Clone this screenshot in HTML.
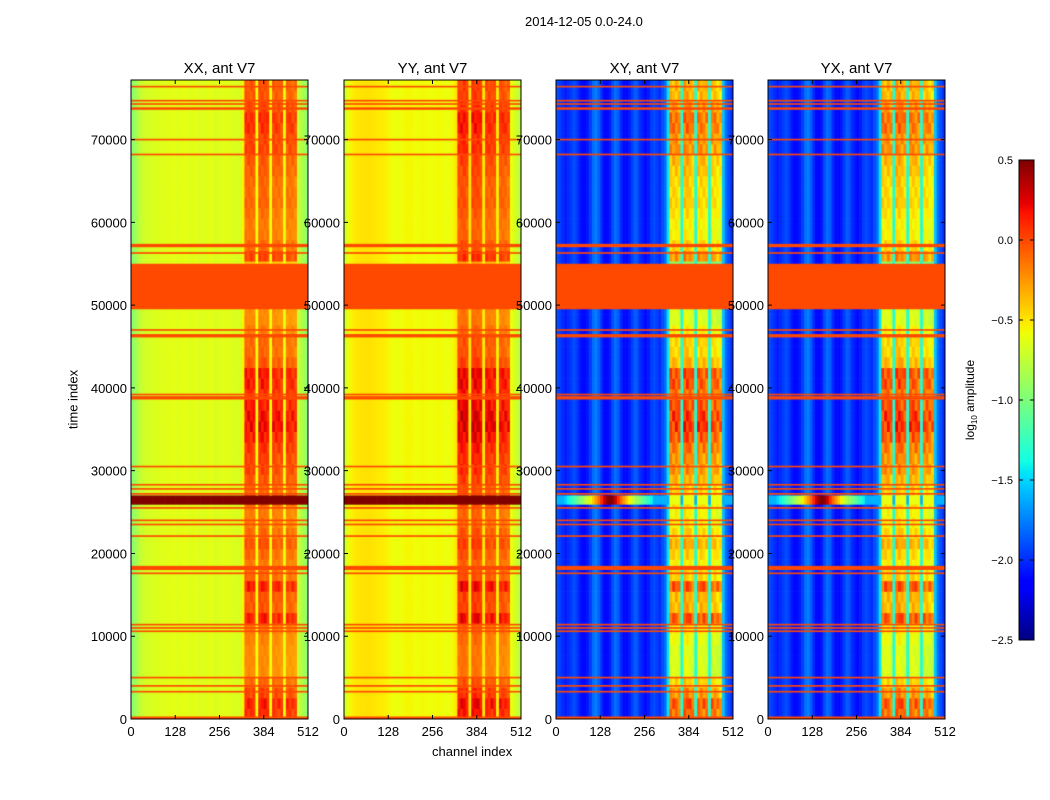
<!DOCTYPE html>
<html><head><meta charset="utf-8"><style>
body{margin:0;background:#fff;font-family:"Liberation Sans",sans-serif;}
#wrap{position:relative;width:1050px;height:800px;overflow:hidden;background:#fff}
.t{position:absolute;font-size:13px;color:#000;white-space:nowrap}
canvas{position:absolute}
</style></head><body>
<div id="wrap">
<div class="t" style="left:525px;top:14px;font-size:13px">2014-12-05 0.0-24.0</div>
<div class="t" style="left:432px;top:744px">channel index</div>
<div class="t" style="left:33px;top:392px;transform:rotate(-90deg);transform-origin:center;width:80px;text-align:center">time index</div>
<svg id="svg" width="1050" height="800" style="position:absolute;left:0;top:0"></svg>
</div>
<script>
// ---- data ----
const panelTitles=["XX, ant V7","YY, ant V7","XY, ant V7","YX, ant V7"];
const yTicks=[0,10000,20000,30000,40000,50000,60000,70000];
const xTicks=[0,128,256,384,512];
const cbTicks=[0.5,0.0,-0.5,-1.0,-1.5,-2.0,-2.5];
const tMax=77200, nRows=60, rowSpan=1287;
const baseXX=[-0.95,-0.88,-0.8,-0.74,-0.7,-0.68,-0.67,-0.66,-0.66,-0.65,-0.64,-0.64,-0.63,-0.64,-0.62,-0.62,-0.63,-0.64,-0.62,-0.61,-0.62,-0.64,-0.63,-0.62,-0.64,-0.65,-0.64,-0.63,-0.62,-0.64,-0.65,-0.64,-0.64,-0.62,-0.63,-0.64,-0.64,-0.65,-0.66,-0.66,-0.55,-0.38,-0.38,-0.39,-0.4,-0.58,-0.38,-0.37,-0.38,-0.4,-0.58,-0.42,-0.42,-0.43,-0.45,-0.6,-0.44,-0.44,-0.45,-0.47,-0.72,-0.78,-0.85,-0.95];
const baseYY=[-0.7,-0.6,-0.55,-0.52,-0.5,-0.5,-0.49,-0.49,-0.48,-0.49,-0.5,-0.5,-0.51,-0.52,-0.53,-0.54,-0.56,-0.58,-0.59,-0.59,-0.58,-0.57,-0.56,-0.56,-0.56,-0.58,-0.58,-0.57,-0.56,-0.57,-0.58,-0.58,-0.58,-0.56,-0.57,-0.58,-0.59,-0.59,-0.58,-0.56,-0.5,-0.32,-0.3,-0.3,-0.33,-0.5,-0.3,-0.3,-0.31,-0.34,-0.52,-0.36,-0.36,-0.37,-0.38,-0.54,-0.38,-0.38,-0.4,-0.43,-0.6,-0.65,-0.7,-0.78];
const baseXY=[-1.9,-1.95,-2.0,-2.05,-2.0,-1.95,-1.9,-1.95,-2.05,-2.1,-2.1,-2.05,-1.95,-1.8,-1.75,-1.85,-2.0,-2.1,-2.1,-2.05,-1.9,-1.8,-1.85,-2.0,-2.1,-2.1,-2.05,-1.95,-1.85,-1.9,-2.0,-2.05,-2.1,-2.05,-1.95,-1.9,-1.95,-2.0,-1.9,-1.8,-1.45,-0.95,-0.95,-0.95,-1.0,-1.35,-0.9,-0.9,-0.95,-1.0,-1.35,-0.95,-0.95,-0.97,-1.0,-1.35,-1.0,-1.0,-1.05,-1.1,-1.55,-1.8,-1.9,-2.0];
const baseYX=baseXY.slice();
const rfiRow=[0.8,0.9,0.7,0.5,0.3,0.3,0.3,0.35,0.4,0.9,0.6,0.6,0.9,0.5,0.4,0.5,0.6,0.5,0.4,0.4,0.5,0.5,0.6,0.7,0.7,0.8,0.9,1.0,1.0,0.9,0.8,0.9,0.9,0.6,0.5,0.5,0.4,0.3,0.3,0,0,0,0,0.7,0.5,0.4,0.4,0.45,0.5,0.5,0.5,0.55,0.6,0.7,0.7,0.8,0.8,0.7,0.6,0.6];
const rfiCol=[1.0,1.1,0.85,1.05,0.95,0.8,1.1,0.9];
const rfiGain=[0.6,0.6,1.05,1.05];
const flagStart=[0,3200,3900,4900,10500,10900,11300,17500,18000,22000,23400,23900,25400,27100,27700,28200,30400,38600,39100,46100,46900,49500,56200,57000,68100,69900,73600,74200,74600,76300];
const flagEnd=[300,3400,4100,5100,10700,11100,11500,17700,18500,22200,23600,24100,25600,27300,27900,28400,30600,39000,39300,46500,47100,55000,56400,57400,68300,70100,73900,74400,74800,76500];
const flagValue=0.0;
const burstT0=25900, burstT1=27000;
const burstXX=0.5, burstYY=0.5;
const burstXY=[-1.5,-1.4,-1.3,-1.2,-1.1,-1.0,-0.9,-0.8,-0.7,-0.55,-0.4,-0.25,-0.1,0.1,0.3,0.45,0.5,0.45,0.3,0.1,-0.1,-0.25,-0.4,-0.55,-0.7,-0.8,-0.9,-1.0,-1.1,-1.2,-1.3,-1.4];
// ---- layout ----
const panelX=[131,344,556,768], pw=177, py=80, ph=639;
const vmin=-2.5, vmax=0.5;
const JR=[[0,0],[0.35,0],[0.66,1],[0.89,1],[1,0.5]];
const JG=[[0,0],[0.125,0],[0.375,1],[0.64,1],[0.91,0],[1,0]];
const JB=[[0,0.5],[0.11,1],[0.34,1],[0.65,0],[1,0]];
function interp(pts,x){for(let i=1;i<pts.length;i++){if(x<=pts[i][0]){const a=pts[i-1],b=pts[i];return a[1]+(b[1]-a[1])*(x-a[0])/(b[0]-a[0]);}}return pts[pts.length-1][1];}
function jet(v){let x=(v-vmin)/(vmax-vmin);x=Math.max(0,Math.min(1,x));
 return `rgb(${Math.round(255*interp(JR,x))},${Math.round(255*interp(JG,x))},${Math.round(255*interp(JB,x))})`;}
const yS=t=>py+ph-t/tMax*ph;
const xS=c=>c/512*pw;
const svg=document.getElementById('svg');const NS="http://www.w3.org/2000/svg";
const wrap=document.getElementById('wrap');
const bases=[baseXX,baseYY,baseXY,baseYX];
function isRfi(b){return (b>=41&&b<=44)||(b>=46&&b<=49)||(b>=51&&b<=54)||(b>=56&&b<=59);}
function txt(x,y,s,anchor,size){const t=document.createElementNS(NS,'text');t.setAttribute('x',x);t.setAttribute('y',y);t.setAttribute('text-anchor',anchor);t.setAttribute('font-size',size||13);t.setAttribute('font-family','Liberation Sans, sans-serif');t.textContent=s;svg.appendChild(t);return t;}
for(let p=0;p<4;p++){
 const cv=document.createElement('canvas');cv.width=pw;cv.height=ph;
 cv.style.left=panelX[p]+'px';cv.style.top=py+'px';
 
 
 wrap.insertBefore(cv,svg);
 const g=cv.getContext('2d');const base=bases[p];
 for(let r=0;r<nRows;r++){
  const t0=r*rowSpan,t1=Math.min(tMax,(r+1)*rowSpan+rowSpan*(r==nRows-1?2:0));
  for(let b=0;b<64;b++){
   let v=base[b];
   if(isRfi(b)) v+=rfiRow[r]*rfiGain[p]*rfiCol[(b+r)%8];
   g.fillStyle=jet(v);
   const x0=xS(b*8),x1=xS(b*8+8);
   g.fillRect(x0,yS(t1)-py,x1-x0+0.6,yS(t0)-yS(t1)+0.6);
  }
 }
 for(let b=0;b<64;b++){
  let v;
  if(p<2) v=(p==0?burstXX:burstYY); else {const i=b-3; v=(i>=0&&i<burstXY.length)?burstXY[i]:-1.6; if(isRfi(b)) v=Math.max(v,-0.6);}
  g.fillStyle=jet(v);
  const x0=xS(b*8),x1=xS(b*8+8);
  g.fillRect(x0,yS(burstT1)-py,x1-x0+0.6,yS(burstT0)-yS(burstT1));
 }
 g.fillStyle=jet(flagValue);
 for(let i=0;i<flagStart.length;i++){
  const y0=yS(flagEnd[i])-py,y1=yS(flagStart[i])-py;
  g.fillRect(0,y0,pw,Math.max(1,y1-y0));
 }
 const fr=document.createElementNS(NS,'rect');fr.setAttribute('x',panelX[p]);fr.setAttribute('y',py);fr.setAttribute('width',pw);fr.setAttribute('height',ph);fr.setAttribute('fill','none');fr.setAttribute('stroke','#000');
 
 
 svg.appendChild(fr);
 const tt=txt(panelX[p]+pw/2,73,panelTitles[p],'middle',15);
 
 
 for(const yt of yTicks){const y=yS(yt);
  const l=document.createElementNS(NS,'path');l.setAttribute('d',`M${panelX[p]} ${y}h4M${panelX[p]+pw} ${y}h-4`);l.setAttribute('stroke','#000');svg.appendChild(l);
  const lb=txt(panelX[p]-4,y+5,String(yt),'end');
  
  }
 for(const xt of xTicks){const x=panelX[p]+xS(xt);
  const l=document.createElementNS(NS,'path');l.setAttribute('d',`M${x} ${py+ph}v-4M${x} ${py}v4`);l.setAttribute('stroke','#000');svg.appendChild(l);
  const lb=txt(x,736,String(xt),'middle');
  
  }
}
const cbx=1019,cbw=15,cby=160,cbh=480;
for(let i=0;i<cbh;i++){const v=vmax-(i/cbh)*(vmax-vmin);
 const r=document.createElementNS(NS,'rect');r.setAttribute('x',cbx);r.setAttribute('y',cby+i);r.setAttribute('width',cbw);r.setAttribute('height',1.2);r.setAttribute('fill',jet(v));svg.appendChild(r);}
const cbf=document.createElementNS(NS,'rect');cbf.setAttribute('x',cbx);cbf.setAttribute('y',cby);cbf.setAttribute('width',cbw);cbf.setAttribute('height',cbh);cbf.setAttribute('fill','none');cbf.setAttribute('stroke','#000');


svg.appendChild(cbf);
for(const v of cbTicks){const y=cby+(vmax-v)/(vmax-vmin)*cbh;
 const l=document.createElementNS(NS,'path');l.setAttribute('d',`M${cbx} ${y}h4M${cbx+cbw} ${y}h-4`);l.setAttribute('stroke','#000');svg.appendChild(l);
 const lb=txt(1013,y+4,(v<0?'\u2212':'')+Math.abs(v).toFixed(1),'end',11);
 
 }
const cl=document.createElementNS(NS,'text');cl.setAttribute('transform','translate(974,400) rotate(-90)');cl.setAttribute('text-anchor','middle');cl.setAttribute('font-size',12);cl.setAttribute('font-family','Liberation Sans, sans-serif');
cl.innerHTML='log<tspan font-size="8" dy="3">10</tspan><tspan dy="-3"> amplitude</tspan>';


svg.appendChild(cl);
</script>
</body></html>
